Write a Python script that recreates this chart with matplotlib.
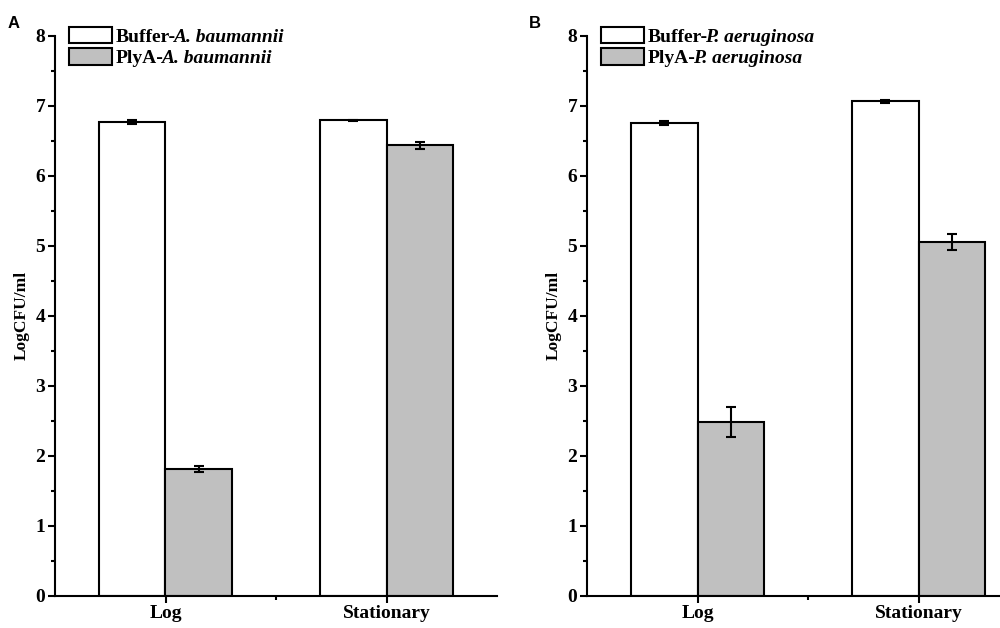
import matplotlib
matplotlib.use("Agg")
import matplotlib.pyplot as plt
from matplotlib.ticker import MultipleLocator, FixedLocator

phases = ["Log", "Stationary"]

# panel A - A. baumannii
buffer_a = [6.77, 6.79]
buffer_a_err = [0.03, 0.01]
plya_a = [1.81, 6.43]
plya_a_err = [0.045, 0.045]

# panel B - P. aeruginosa
buffer_b = [6.75, 7.06]
buffer_b_err = [0.03, 0.02]
plya_b = [2.48, 5.05]
plya_b_err = [0.21, 0.11]

panels = [
    ("A", "A. baumannii", buffer_a, buffer_a_err, plya_a, plya_a_err),
    ("B", "P. aeruginosa", buffer_b, buffer_b_err, plya_b, plya_b_err),
]

serif = "Liberation Serif"
fig = plt.figure(figsize=(10, 6.28), dpi=100)
fig.patch.set_facecolor("white")

lefts = [0.055, 0.587]
tag_x = [0.014, 0.535]
legends = []
for (tag, bug, buf, buf_err, ply, ply_err), x0, tx in zip(panels, lefts, tag_x):
    ax = fig.add_axes([x0, 0.0514, 0.442, 0.892])
    x = [1, 2]
    w = 0.3
    ax.bar([i - w / 2 for i in x], buf, width=w, color="white", edgecolor="black",
           linewidth=1.5, label="Buffer-")
    ax.bar([i + w / 2 for i in x], ply, width=w, color="#c0c0c0", edgecolor="black",
           linewidth=1.5, label="PlyA-")
    ax.errorbar([i - w / 2 for i in x], buf, yerr=buf_err, fmt="none", ecolor="black",
                elinewidth=1.5, capsize=3.5, capthick=1.5)
    ax.errorbar([i + w / 2 for i in x], ply, yerr=ply_err, fmt="none", ecolor="black",
                elinewidth=1.5, capsize=3.5, capthick=1.5)

    ax.set_xlim(0.5, 2.5)
    ax.set_ylim(0, 8)
    ax.set_xticks(x)
    ax.set_xticklabels(phases)
    ax.xaxis.set_minor_locator(FixedLocator([1.5]))
    ax.yaxis.set_major_locator(MultipleLocator(1))
    ax.yaxis.set_minor_locator(MultipleLocator(0.5))
    for s in ["top", "right"]:
        ax.spines[s].set_visible(False)
    for s in ["left", "bottom"]:
        ax.spines[s].set_linewidth(1.5)
    ax.tick_params(which="major", direction="out", length=5, width=1.5, pad=2)
    ax.tick_params(which="minor", direction="out", length=3, width=1.5)
    for lab in ax.get_xticklabels() + ax.get_yticklabels():
        lab.set_fontfamily(serif)
        lab.set_fontweight("bold")
        lab.set_fontsize(14)
    ax.set_ylabel("LogCFU/ml", fontfamily=serif, fontweight="bold", fontsize=12.5, labelpad=4)

    leg = ax.legend(loc="upper left", bbox_to_anchor=(0.015, 1.03), frameon=False,
                    prop={"family": serif, "weight": "bold", "size": 14},
                    handlelength=2.2, handleheight=0.95, handletextpad=0.2,
                    labelspacing=0.12, borderaxespad=0)
    legends.append((leg, bug))

    fig.text(tx, 0.962, tag, fontfamily="Liberation Sans", fontweight="bold",
             fontsize=12, ha="center", va="center")

# append the italic species names right after the legend labels
fig.canvas.draw()
W, H = fig.canvas.get_width_height()
for leg, bug in legends:
    for t in leg.get_texts():
        bb = t.get_window_extent()
        px, py = t.get_transform().transform(t.get_position())
        fig.text((bb.x1 - 3) / W, py / H, bug, fontfamily=serif, fontweight="bold",
                 fontstyle="italic", fontsize=14, ha="left", va="baseline")

fig.savefig("out.png", dpi=100)
